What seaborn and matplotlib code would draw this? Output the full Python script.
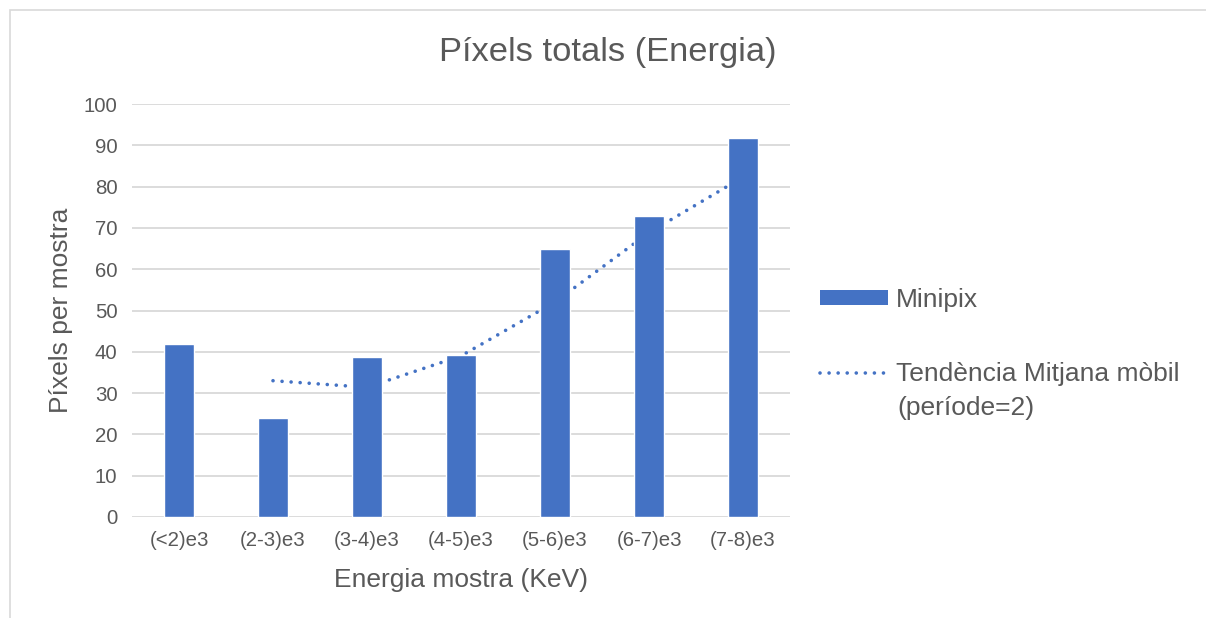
import matplotlib
matplotlib.use("Agg")
import matplotlib.pyplot as plt
import seaborn as sns
import pandas as pd
from matplotlib.patches import Patch, Rectangle
from matplotlib.lines import Line2D

categories = ["(<2)e3", "(2-3)e3", "(3-4)e3", "(4-5)e3", "(5-6)e3", "(6-7)e3", "(7-8)e3"]
pixels = [42, 24, 38.8, 39.2, 64.9, 72.8, 91.8]
# moving average (period=2), starts at the second category
trend_cats = categories[1:]
trend = [33, 31.4, 39, 52.05, 68.85, 82.3]

blue = "#4472C4"
grey_txt = "#595959"
grid_col = "#D9D9D9"
dots = (0, (0.01, 2.5))

sns.set_style("white")
plt.rcParams["font.family"] = ["Liberation Sans", "DejaVu Sans"]

df = pd.DataFrame({"cat": categories, "val": pixels})

fig = plt.figure(figsize=(12.06, 6.18), dpi=100)
ax = fig.add_axes([132 / 1206, 1 - 517 / 618, (790 - 132) / 1206, (517 - 104) / 618])

# trendline sits behind the bars
pos = [categories.index(c) for c in trend_cats]
ax.plot(pos, trend, color=blue, lw=2.6, ls=dots, dash_capstyle="round", zorder=1)
sns.barplot(data=df, x="cat", y="val", color=blue, width=0.32, saturation=1, ax=ax, zorder=2)

ax.set_ylim(0, 100)
ax.set_yticks(range(0, 101, 10))
ax.set_xlim(-0.5, 6.5)
ax.yaxis.grid(True, color=grid_col, lw=1.3, zorder=0)
ax.set_axisbelow(True)
for s in ax.spines.values():
    s.set_visible(False)
ax.tick_params(axis="both", length=0, labelsize=14.7, colors=grey_txt)
ax.tick_params(axis="x", pad=10)
ax.tick_params(axis="y", pad=10.5)
ax.set_xlabel("Energia mostra (KeV)", fontsize=19, color=grey_txt, labelpad=13)
ax.set_ylabel("Píxels per mostra", fontsize=19, color=grey_txt, labelpad=8)
fig.text(608 / 1206, 1 - 52 / 618, "Píxels totals (Energia)", fontsize=24.8, color=grey_txt,
         ha="center", va="center")

handles = [Patch(facecolor=blue, edgecolor="none"),
           Line2D([0], [0], color=blue, lw=2.6, ls=dots, dash_capstyle="round")]
labels = ["Minipix", "Tendència Mitjana mòbil"]
leg = fig.legend(handles, labels, loc="upper left", bbox_to_anchor=(812 / 1206, 1 - 280 / 618),
                 frameon=False, fontsize=19, handlelength=2.58, handleheight=0.45,
                 handletextpad=0.3, labelspacing=1.9, labelcolor=grey_txt,
                 borderaxespad=0, borderpad=0.3)
fig.text(897 / 1206, 1 - 408 / 618, "(període=2)", fontsize=19, color=grey_txt,
         ha="left", va="center")

# outer chart border
fig.add_artist(Rectangle((10 / 1206, -0.1), 1.2, 1 - 10 / 618 + 0.1, transform=fig.transFigure,
                         fill=False, edgecolor="#D9D9D9", lw=1.2))

fig.savefig("out.png", dpi=100)
